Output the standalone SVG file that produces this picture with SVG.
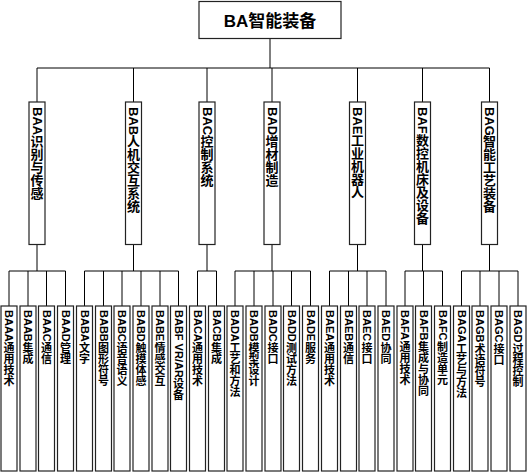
<svg xmlns="http://www.w3.org/2000/svg" width="527" height="473" viewBox="0 0 527 473">
<style>
rect{fill:#fff;stroke:#222;stroke-width:1.2}
.c line{stroke:#000;stroke-width:1}
text{font-family:"Liberation Sans","Noto Sans CJK SC",sans-serif;font-weight:bold;fill:#000}
.v{writing-mode:vertical-rl;font-family:"Noto Sans CJK SC",sans-serif}
.t{dominant-baseline:central}
.m{font-size:13px}
.l{font-size:11px}
</style>
<rect width="527" height="473" style="fill:#fff;stroke:none"/>
<g class="c">
<line x1="270" y1="38.5" x2="270" y2="68"/>
<line x1="37" y1="68" x2="489.5" y2="68"/>
<line x1="37" y1="68" x2="37" y2="102"/>
<line x1="133.5" y1="68" x2="133.5" y2="102"/>
<line x1="207" y1="68" x2="207" y2="102"/>
<line x1="272" y1="68" x2="272" y2="102"/>
<line x1="357.5" y1="68" x2="357.5" y2="102"/>
<line x1="422.5" y1="68" x2="422.5" y2="102"/>
<line x1="489.5" y1="68" x2="489.5" y2="102"/>
<line x1="37" y1="244.5" x2="37" y2="271"/>
<line x1="133.5" y1="244.5" x2="133.5" y2="271"/>
<line x1="207" y1="244.5" x2="207" y2="271"/>
<line x1="272" y1="244.5" x2="272" y2="271"/>
<line x1="357.5" y1="244.5" x2="357.5" y2="271"/>
<line x1="422.5" y1="244.5" x2="422.5" y2="271"/>
<line x1="489.5" y1="244.5" x2="489.5" y2="271"/>
<line x1="9" y1="271" x2="65.5" y2="271"/>
<line x1="84.5" y1="271" x2="178.5" y2="271"/>
<line x1="197.5" y1="271" x2="216.5" y2="271"/>
<line x1="235" y1="271" x2="310.5" y2="271"/>
<line x1="329.5" y1="271" x2="386" y2="271"/>
<line x1="405" y1="271" x2="442.5" y2="271"/>
<line x1="461.5" y1="271" x2="518" y2="271"/>
<line x1="9" y1="271" x2="9" y2="306"/>
<line x1="28" y1="271" x2="28" y2="306"/>
<line x1="46.5" y1="271" x2="46.5" y2="306"/>
<line x1="65.5" y1="271" x2="65.5" y2="306"/>
<line x1="84.5" y1="271" x2="84.5" y2="306"/>
<line x1="103.5" y1="271" x2="103.5" y2="306"/>
<line x1="122" y1="271" x2="122" y2="306"/>
<line x1="141" y1="271" x2="141" y2="306"/>
<line x1="160" y1="271" x2="160" y2="306"/>
<line x1="178.5" y1="271" x2="178.5" y2="306"/>
<line x1="197.5" y1="271" x2="197.5" y2="306"/>
<line x1="216.5" y1="271" x2="216.5" y2="306"/>
<line x1="235" y1="271" x2="235" y2="306"/>
<line x1="254" y1="271" x2="254" y2="306"/>
<line x1="273" y1="271" x2="273" y2="306"/>
<line x1="291.5" y1="271" x2="291.5" y2="306"/>
<line x1="310.5" y1="271" x2="310.5" y2="306"/>
<line x1="329.5" y1="271" x2="329.5" y2="306"/>
<line x1="348.5" y1="271" x2="348.5" y2="306"/>
<line x1="367" y1="271" x2="367" y2="306"/>
<line x1="386" y1="271" x2="386" y2="306"/>
<line x1="405" y1="271" x2="405" y2="306"/>
<line x1="423.5" y1="271" x2="423.5" y2="306"/>
<line x1="442.5" y1="271" x2="442.5" y2="306"/>
<line x1="461.5" y1="271" x2="461.5" y2="306"/>
<line x1="480" y1="271" x2="480" y2="306"/>
<line x1="499" y1="271" x2="499" y2="306"/>
<line x1="518" y1="271" x2="518" y2="306"/>
</g>
<g id="BA"><rect x="199" y="1.5" width="142" height="37"/><text x="270" y="27" text-anchor="middle" style="font-size:17px">BA智能装备</text></g>
<g id="BAA"><rect x="29" y="102" width="16" height="142.5"/><text class="t m" transform="translate(37,107) rotate(90)">BAA</text><text class="v m" x="37" y="134.5">识别与传感</text></g>
<g id="BAB"><rect x="125.5" y="102" width="16" height="142.5"/><text class="t m" transform="translate(133.5,107) rotate(90)">BAB</text><text class="v m" x="133.5" y="134.5">人机交互系统</text></g>
<g id="BAC"><rect x="199" y="102" width="16" height="142.5"/><text class="t m" transform="translate(207,107) rotate(90)">BAC</text><text class="v m" x="207" y="134.5">控制系统</text></g>
<g id="BAD"><rect x="264" y="102" width="16" height="142.5"/><text class="t m" transform="translate(272,107) rotate(90)">BAD</text><text class="v m" x="272" y="134.5">增材制造</text></g>
<g id="BAE"><rect x="349.5" y="102" width="16" height="142.5"/><text class="t m" transform="translate(357.5,107) rotate(90)">BAE</text><text class="v m" x="357.5" y="134">工业机器人</text></g>
<g id="BAF"><rect x="414.5" y="102" width="16" height="142.5"/><text class="t m" transform="translate(422.5,107) rotate(90)">BAF</text><text class="v m" x="422.5" y="133.5">数控机床及设备</text></g>
<g id="BAG"><rect x="481.5" y="102" width="16" height="142.5"/><text class="t m" transform="translate(489.5,107) rotate(90)">BAG</text><text class="v m" x="489.5" y="135">智能工艺装备</text></g>
<g id="BAAA"><rect x="1" y="306" width="16" height="165"/><text class="t l" transform="translate(9,310) rotate(90)">BAAA</text><text class="v l" x="9" y="342.5">通用技术</text></g>
<g id="BAAB"><rect x="20" y="306" width="16" height="165"/><text class="t l" transform="translate(28,310) rotate(90)">BAAB</text><text class="v l" x="28" y="342.5">集成</text></g>
<g id="BAAC"><rect x="38.5" y="306" width="16" height="165"/><text class="t l" transform="translate(46.5,310) rotate(90)">BAAC</text><text class="v l" x="46.5" y="342.5">通信</text></g>
<g id="BAAD"><rect x="57.5" y="306" width="16" height="165"/><text class="t l" transform="translate(65.5,310) rotate(90)">BAAD</text><text class="v l" x="65.5" y="342.5">管理</text></g>
<g id="BABA"><rect x="76.5" y="306" width="16" height="165"/><text class="t l" transform="translate(84.5,310) rotate(90)">BABA</text><text class="v l" x="84.5" y="342.5">文字</text></g>
<g id="BABB"><rect x="95.5" y="306" width="16" height="165"/><text class="t l" transform="translate(103.5,310) rotate(90)">BABB</text><text class="v l" x="103.5" y="342.5">图形符号</text></g>
<g id="BABC"><rect x="114" y="306" width="16" height="165"/><text class="t l" transform="translate(122,310) rotate(90)">BABC</text><text class="v l" x="122" y="342.5">语音语义</text></g>
<g id="BABD"><rect x="133" y="306" width="16" height="165"/><text class="t l" transform="translate(141,310) rotate(90)">BABD</text><text class="v l" x="141" y="342.5">触摸体感</text></g>
<g id="BABE"><rect x="152" y="306" width="16" height="165"/><text class="t l" transform="translate(160,310) rotate(90)">BABE</text><text class="v l" x="160" y="342">情感交互</text></g>
<g id="BABF"><rect x="170.5" y="306" width="16" height="165"/><text class="t l" transform="translate(178.5,310) rotate(90)">BABF VR/AR</text><text class="v l" x="178.5" y="378.5">设备</text></g>
<g id="BACA"><rect x="189.5" y="306" width="16" height="165"/><text class="t l" transform="translate(197.5,310) rotate(90)">BACA</text><text class="v l" x="197.5" y="342.5">通用技术</text></g>
<g id="BACB"><rect x="208.5" y="306" width="16" height="165"/><text class="t l" transform="translate(216.5,310) rotate(90)">BACB</text><text class="v l" x="216.5" y="342.5">集成</text></g>
<g id="BADA"><rect x="227" y="306" width="16" height="165"/><text class="t l" transform="translate(235,310) rotate(90)">BADA</text><text class="v l" x="235" y="342.5">工艺和方法</text></g>
<g id="BADB"><rect x="246" y="306" width="16" height="165"/><text class="t l" transform="translate(254,310) rotate(90)">BADB</text><text class="v l" x="254" y="342.5">模型设计</text></g>
<g id="BADC"><rect x="265" y="306" width="16" height="165"/><text class="t l" transform="translate(273,310) rotate(90)">BADC</text><text class="v l" x="273" y="342.5">接口</text></g>
<g id="BADD"><rect x="283.5" y="306" width="16" height="165"/><text class="t l" transform="translate(291.5,310) rotate(90)">BADD</text><text class="v l" x="291.5" y="342.5">测试方法</text></g>
<g id="BADE"><rect x="302.5" y="306" width="16" height="165"/><text class="t l" transform="translate(310.5,310) rotate(90)">BADE</text><text class="v l" x="310.5" y="342">服务</text></g>
<g id="BAEA"><rect x="321.5" y="306" width="16" height="165"/><text class="t l" transform="translate(329.5,310) rotate(90)">BAEA</text><text class="v l" x="329.5" y="342">通用技术</text></g>
<g id="BAEB"><rect x="340.5" y="306" width="16" height="165"/><text class="t l" transform="translate(348.5,310) rotate(90)">BAEB</text><text class="v l" x="348.5" y="342">通信</text></g>
<g id="BAEC"><rect x="359" y="306" width="16" height="165"/><text class="t l" transform="translate(367,310) rotate(90)">BAEC</text><text class="v l" x="367" y="342">接口</text></g>
<g id="BAED"><rect x="378" y="306" width="16" height="165"/><text class="t l" transform="translate(386,310) rotate(90)">BAED</text><text class="v l" x="386" y="342">协同</text></g>
<g id="BAFA"><rect x="397" y="306" width="16" height="165"/><text class="t l" transform="translate(405,310) rotate(90)">BAFA</text><text class="v l" x="405" y="341.5">通用技术</text></g>
<g id="BAFB"><rect x="415.5" y="306" width="16" height="165"/><text class="t l" transform="translate(423.5,310) rotate(90)">BAFB</text><text class="v l" x="423.5" y="341.5">集成与协同</text></g>
<g id="BAFC"><rect x="434.5" y="306" width="16" height="165"/><text class="t l" transform="translate(442.5,310) rotate(90)">BAFC</text><text class="v l" x="442.5" y="341.5">制造单元</text></g>
<g id="BAGA"><rect x="453.5" y="306" width="16" height="165"/><text class="t l" transform="translate(461.5,310) rotate(90)">BAGA</text><text class="v l" x="461.5" y="343.5">工艺与方法</text></g>
<g id="BAGB"><rect x="472" y="306" width="16" height="165"/><text class="t l" transform="translate(480,310) rotate(90)">BAGB</text><text class="v l" x="480" y="343.5">术语符号</text></g>
<g id="BAGC"><rect x="491" y="306" width="16" height="165"/><text class="t l" transform="translate(499,310) rotate(90)">BAGC</text><text class="v l" x="499" y="343.5">接口</text></g>
<g id="BAGD"><rect x="510" y="306" width="16" height="165"/><text class="t l" transform="translate(518,310) rotate(90)">BAGD</text><text class="v l" x="518" y="343.5">过程控制</text></g>
</svg>
